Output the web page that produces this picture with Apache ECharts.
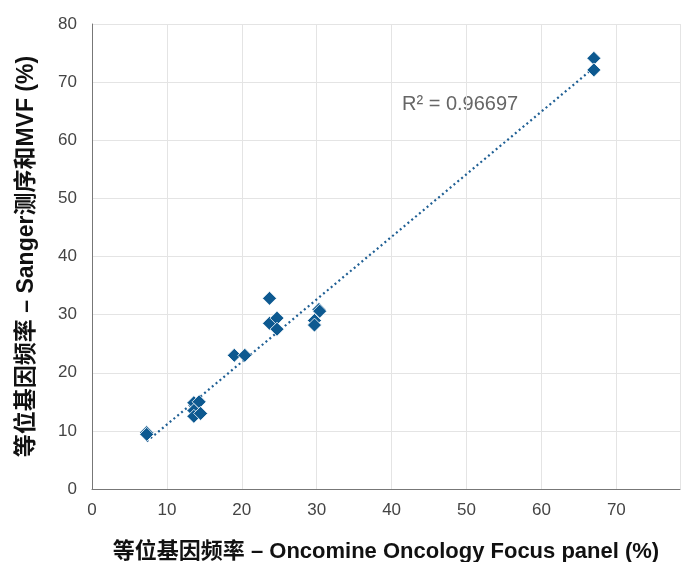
<!DOCTYPE html>
<html><head><meta charset="utf-8">
<script src="https://cdn.jsdelivr.net/npm/echarts@6/dist/echarts.min.js"></script>
<style>html,body{margin:0;padding:0;background:#fff;overflow:hidden;width:683px;height:562px}#c{width:683px;height:562px}</style>
</head><body><div id="c"></div>
<script>
var xValues = [7.3, 7.3, 13.6, 14.3, 13.6, 13.6, 14.5, 19.0, 20.4, 23.7, 23.7, 24.7, 24.7, 29.7, 29.7, 30.3, 30.4, 67.0, 67.0];
var yValues = [9.7, 9.4, 14.85, 15.0, 13.5, 12.5, 13.0, 23.0, 23.0, 32.8, 28.5, 29.4, 27.5, 29.0, 28.2, 30.9, 30.6, 74.1, 72.1];
var xTicks = [0, 10, 20, 30, 40, 50, 60, 70];
var yTicks = [0, 10, 20, 30, 40, 50, 60, 70, 80];
var r2Label = 'R² = 0.96697';
var xTitle = '等位基因频率 – Oncomine Oncology Focus panel (%)';
var yTitle = '等位基因频率 – Sanger测序和MVF (%)';

var pts = xValues.map(function(x, i){ return [x, yValues[i]]; });
var n = xValues.length, sx = 0, sy = 0, sxx = 0, sxy = 0;
for (var i = 0; i < n; i++) { sx += xValues[i]; sy += yValues[i]; sxx += xValues[i]*xValues[i]; sxy += xValues[i]*yValues[i]; }
var slope = (n*sxy - sx*sy) / (n*sxx - sx*sx);
var icpt = (sy - slope*sx) / n;
var xmin = Math.min.apply(null, xValues), xmax = Math.max.apply(null, xValues);
var trend = [[xmin, icpt + slope*xmin], [xmax, icpt + slope*xmax]];

var font = "'Liberation Sans', 'Noto Sans CJK SC', sans-serif";
var chart = echarts.init(document.getElementById('c'));
chart.setOption({
  animation: false,
  grid: {left: 92, right: 3, top: 24, bottom: 73, outerBoundsMode: 'none', containLabel: false},
  xAxis: {
    type: 'value', min: 0, max: 78.5, interval: 10,
    axisLine: {show: true, lineStyle: {color: '#777', width: 1}},
    axisTick: {show: false},
    splitLine: {show: true, lineStyle: {color: '#e4e4e4'}},
    axisLabel: {color: '#444', fontSize: 17, fontFamily: font, margin: 13, showMaxLabel: false,
      formatter: function(v){ return xTicks.indexOf(v) >= 0 ? String(v) : ''; }},
    name: xTitle, nameLocation: 'middle', nameGap: 52,
    nameTextStyle: {color: '#111', fontSize: 22, fontWeight: 'bold', fontFamily: font}
  },
  yAxis: {
    type: 'value', min: 0, max: 80, interval: 10,
    axisLine: {show: true, lineStyle: {color: '#777', width: 1}},
    axisTick: {show: false},
    splitLine: {show: true, lineStyle: {color: '#e4e4e4'}},
    axisLabel: {color: '#444', fontSize: 17, fontFamily: font, margin: 15,
      formatter: function(v){ return yTicks.indexOf(v) >= 0 ? String(v) : ''; }},
    name: yTitle, nameLocation: 'middle', nameGap: 54, nameRotate: 90,
    nameTextStyle: {color: '#111', fontSize: 23, fontWeight: 'bold', fontFamily: font}
  },
  series: [
    {
      type: 'line', data: trend, symbol: 'none', silent: true, z: 1,
      lineStyle: {color: '#1f5f94', width: 2.2, type: [2, 3]}
    },
    {
      type: 'scatter', data: pts, symbol: 'diamond', symbolSize: 14, z: 2,
      itemStyle: {color: '#0d5990', opacity: 1, borderColor: '#fff', borderWidth: 0.8}
    }
  ],
  graphic: [{
    type: 'text', left: 402, top: 94,
    style: {text: r2Label, fill: '#666', fontSize: 20, fontFamily: font}
  }]
});
</script></body></html>
